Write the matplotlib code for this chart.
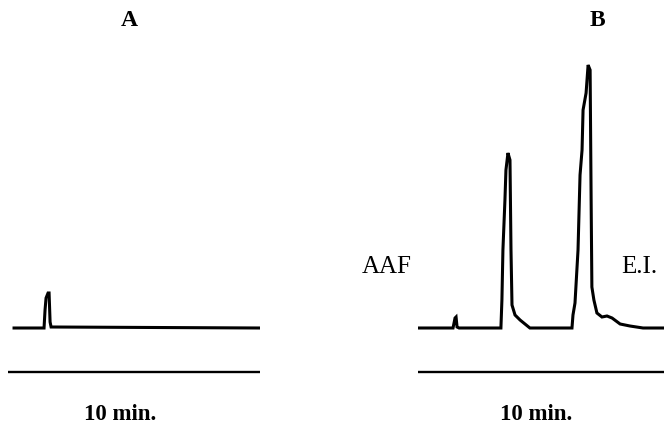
import numpy as np
import matplotlib
matplotlib.use('Agg')
import matplotlib.pyplot as plt

plt.rcParams['font.family'] = ['Liberation Serif', 'DejaVu Serif']

# chromatogram traces, time in min, signal in arbitrary units
t_a = [0.24, 1.43, 1.47, 1.51, 1.59, 1.63, 1.67, 1.71, 10.0]
sig_a = [0, 0, 18, 30, 35, 35, 6, 1, 0]

t_b = [0.0, 1.39, 1.47, 1.51, 1.55, 1.63,
       3.29, 3.33, 3.37, 3.45, 3.49, 3.57, 3.65, 3.69, 3.73, 3.85, 4.05, 4.44,
       6.11, 6.15, 6.23, 6.35, 6.43, 6.51, 6.55, 6.67, 6.75, 6.83, 6.87, 6.90,
       6.98, 7.10, 7.30, 7.50, 7.70, 8.02, 8.41, 8.93, 10.0]
sig_b = [0, 0, 10, 11, 1, 0,
         0, 28, 78, 128, 158, 175, 168, 78, 23, 13, 8, 0,
         0, 13, 25, 78, 153, 178, 218, 235, 263, 258, 128, 41,
         28, 15, 11, 12, 10, 4, 2, 0, 0]

panel_titles = ['A', 'B']
scale_label = '10 min.'
scale_len = 10  # min
peak_labels = ['AAF', 'E.I.']

W, H = 664, 425
fig = plt.figure(figsize=(W / 100, H / 100), dpi=100)

# signal axis: 1 unit ~ 1 px, baseline at y=328 px
ylo, yhi = -97, 328

axA = fig.add_axes([8 / W, 0, 252 / W, 1])
axB = fig.add_axes([418 / W, 0, 252 / W, 1])

for ax, t, s in [(axA, t_a, sig_a), (axB, t_b, sig_b)]:
    ax.plot(t, s, color='black', lw=2.2, solid_joinstyle='miter')
    ax.plot([0, scale_len], [-44, -44], color='black', lw=1.7)
    ax.set_xlim(0, 10)
    ax.set_ylim(ylo, yhi)
    ax.axis('off')

fam = 'Liberation Serif'
fig.text(129 / W, 1 - 21 / H, panel_titles[0], ha='center', va='center',
         fontsize=17, fontweight='bold', family=fam)
fig.text(597 / W, 1 - 21 / H, panel_titles[1], ha='center', va='center',
         fontsize=17, fontweight='bold', family=fam)
fig.text(120 / W, 1 - 414 / H, scale_label, ha='center', va='center',
         fontsize=16.5, fontweight='bold', family=fam)
fig.text(536 / W, 1 - 414 / H, scale_label, ha='center', va='center',
         fontsize=16.5, fontweight='bold', family=fam)
fig.text(387 / W, 1 - 267 / H, peak_labels[0], ha='center', va='center',
         fontsize=18, family=fam)
fig.text(639 / W, 1 - 267 / H, peak_labels[1], ha='center', va='center',
         fontsize=18, family=fam)

fig.savefig('out.png', dpi=100, facecolor='white')
